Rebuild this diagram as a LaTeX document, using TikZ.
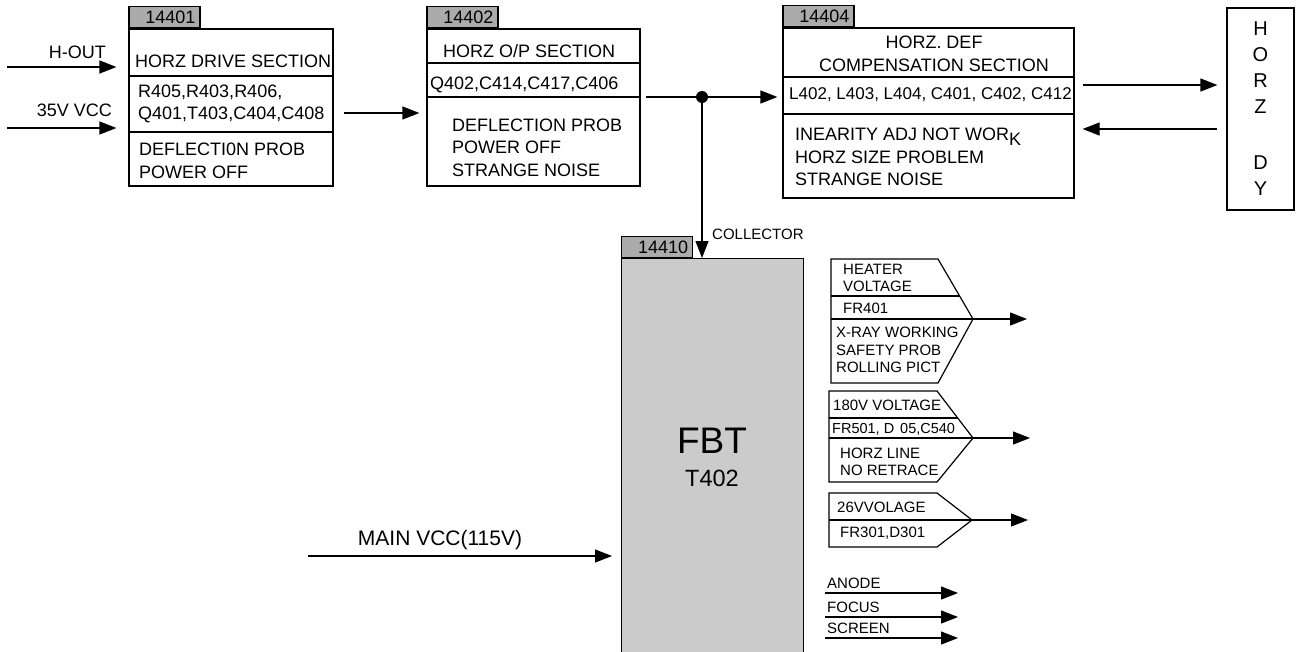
\documentclass[tikz,border=0pt]{standalone}
\usepackage{fontspec}
\setmainfont{Liberation Sans}
\usetikzlibrary{arrows.meta}
\definecolor{TabGray}{HTML}{ABABAB}
\definecolor{BodyGray}{HTML}{CBCBCB}

\begin{document}
\begin{tikzpicture}[x=1pt,y=-1pt,
    box/.style={draw,line width=1.2pt,inner sep=0pt},
    tab/.style={draw,line width=1.2pt,fill=TabGray,minimum width=71pt,minimum height=21pt,
                inner sep=0pt,text width=62pt,align=right,font=\fontsize{18}{20}\selectfont},
    txt/.style={anchor=west,align=left,inner sep=0pt,font=\fontsize{18}{22.5}\selectfont},
    tag/.style={anchor=west,align=left,inner sep=0pt,font=\fontsize{15}{17.5}\selectfont},
    link/.style={line width=1.2pt},
    arr/.style={line width=1.2pt,-{Triangle[length=17pt,width=13pt]}}
  ]
  \useasboundingbox (0,0) rectangle (1308,651);

  % drive section
  \node[box,minimum width=204pt,minimum height=157pt] (drive) at (231,107.5) {};
  \node[tab,anchor=south west] (drivetab) at (drive.north west) {14401};
  \draw[link] (drive.west |- 0,76) -- (drive.east |- 0,76);
  \draw[link] (drive.west |- 0,132) -- (drive.east |- 0,132);
  \node[txt] (driveA) at (135,61) {HORZ DRIVE SECTION};
  \node[txt] (driveB) at (138,104) {R405,R403,R406,\\Q401,T403,C404,C408};
  \node[txt] (driveC) at (139,161) {DEFLECTI0N PROB\\POWER OFF};

  % output section
  \node[box,minimum width=213pt,minimum height=157pt] (outp) at (533.5,107.5) {};
  \node[tab,anchor=south west] (outptab) at (outp.north west) {14402};
  \draw[link] (outp.west |- 0,63) -- (outp.east |- 0,63);
  \draw[link] (outp.west |- 0,97) -- (outp.east |- 0,97);
  \node[txt] (outpA) at (443,51.5) {HORZ O/P SECTION};
  \node[txt] (outpB) at (430,85) {Q402,C414,C417,C406};
  \node[txt] (outpC) at (452,147.5) {DEFLECTION PROB\\POWER OFF\\STRANGE NOISE};

  % compensation section
  \node[box,minimum width=291pt,minimum height=170pt] (comp) at (928.5,113) {};
  \node[tab,anchor=south west] (comptab) at (comp.north west) {14404};
  \draw[link] (comp.west |- 0,77) -- (comp.east |- 0,77);
  \draw[link] (comp.west |- 0,114) -- (comp.east |- 0,114);
  \node[txt,anchor=center,align=center] (compA) at (934,54) {HORZ. DEF\\COMPENSATION SECTION};
  \node[txt,font=\fontsize{17}{20}\selectfont] (compB) at (789,95) {L402, L403, L404, C401, C402, C412};
  \node[txt] (compC) at (795,157) {INEARITY ADJ NOT WOR\raisebox{-5pt}{K}\\HORZ SIZE PROBLEM\\STRANGE NOISE};

  % yoke
  \node[box,minimum width=67pt,minimum height=202pt,align=center,
        font=\fontsize{20}{26}\selectfont] (dy) at (1260.5,109) {H\\O\\R\\Z\\[30pt]D\\Y};

  % flyback
  \node[box,fill=BodyGray,minimum width=182pt,minimum height=402pt,anchor=north west] (fbt) at (621,258) {};
  \node[tab,anchor=south west] (fbttab) at (fbt.north west) {14410};
  \node[font=\fontsize{37}{40}\selectfont] (fbtname) at (712,441) {FBT};
  \node[font=\fontsize{23.5}{26}\selectfont] (fbtnum) at (712,478) {T402};

  % inputs
  \coordinate (hout) at (7,67);
  \coordinate (vin) at (7,128);
  \draw[arr,shorten >=12pt] (hout) -- (hout -| drive.west);
  \draw[arr,shorten >=12pt] (vin) -- (vin -| drive.west);
  \node[txt,anchor=east] (houtlab) at (106,52) {H-OUT};
  \node[txt,anchor=east] (vinlab) at (112,110) {35V VCC};
  \coordinate (mvcc) at (308,556);
  \draw[arr,shorten >=9pt] (mvcc) -- (mvcc -| fbt.west);
  \node[anchor=base,font=\fontsize{21}{24}\selectfont] (mvcclab) at (440,545) {MAIN VCC(115V)};

  % chain
  \draw[arr,shorten <=10pt,shorten >=7pt] (drive.east |- 0,113) -- (outp.west |- 0,113);
  \coordinate (jn) at (702,97);
  \draw[link,shorten <=5pt] (outp.east |- jn) -- (jn);
  \draw[arr,shorten >=5pt] (jn) -- (jn -| comp.west);
  \draw[arr] (jn) -- (jn |- fbt.north);
  \fill (jn) circle (6pt);
  \node[tag] (colllab) at (712,234) {COLLECTOR};
  \draw[arr,shorten <=8pt,shorten >=9pt] (comp.east |- 0,85) -- (dy.west |- 0,85);
  \draw[arr,shorten <=9pt,shorten >=8pt] (dy.west |- 0,129) -- (comp.east |- 0,129);

  % flyback outputs
  \draw[link] (831,259) -- (938,259) -- (973,319) coordinate (heat) -- (938,383) -- (831,383) -- cycle;
  \draw[link] (831,296) -- (959.6,296) (831,319) -- (heat);
  \node[tag] (heatA) at (843,278) {HEATER\\VOLTAGE};
  \node[tag] (heatB) at (843,308) {FR401};
  \node[tag] (heatC) at (836,350) {X-RAY WORKING\\SAFETY PROB\\ROLLING PICT};
  \draw[arr] (heat) -- ++(54,0);

  \draw[link] (829,391) -- (937,391) -- (973,438) coordinate (hv) -- (937,482) -- (829,482) -- cycle;
  \draw[link] (829,418) -- (957.7,418) (829,438) -- (hv);
  \node[tag] (hvA) at (833,405) {180V VOLTAGE};
  \node[tag,font=\fontsize{14.5}{17}\selectfont] (hvB) at (832,429) {FR501, D\hspace{6pt}05,C540};
  \node[tag] (hvC) at (840,462) {HORZ LINE\\NO RETRACE};
  \draw[arr] (hv) -- ++(57,0);

  \draw[link] (829,493) -- (937,493) -- (972,520) coordinate (lv) -- (937,547) -- (829,547) -- cycle;
  \draw[link] (829,520) -- (lv);
  \node[tag] (lvA) at (837,507) {26VVOLAGE};
  \node[tag] (lvB) at (840,533) {FR301,D301};
  \draw[arr] (lv) -- ++(56,0);

  \foreach \lab/\y in {ANODE/593,FOCUS/617,SCREEN/638}{
    \coordinate (\lab) at (825,\y);
    \draw[arr] (\lab) -- ++(133,0);
    \node[tag,anchor=base west] (l\lab) at (827,\y-5) {\lab};
  }
\end{tikzpicture}
\end{document}
